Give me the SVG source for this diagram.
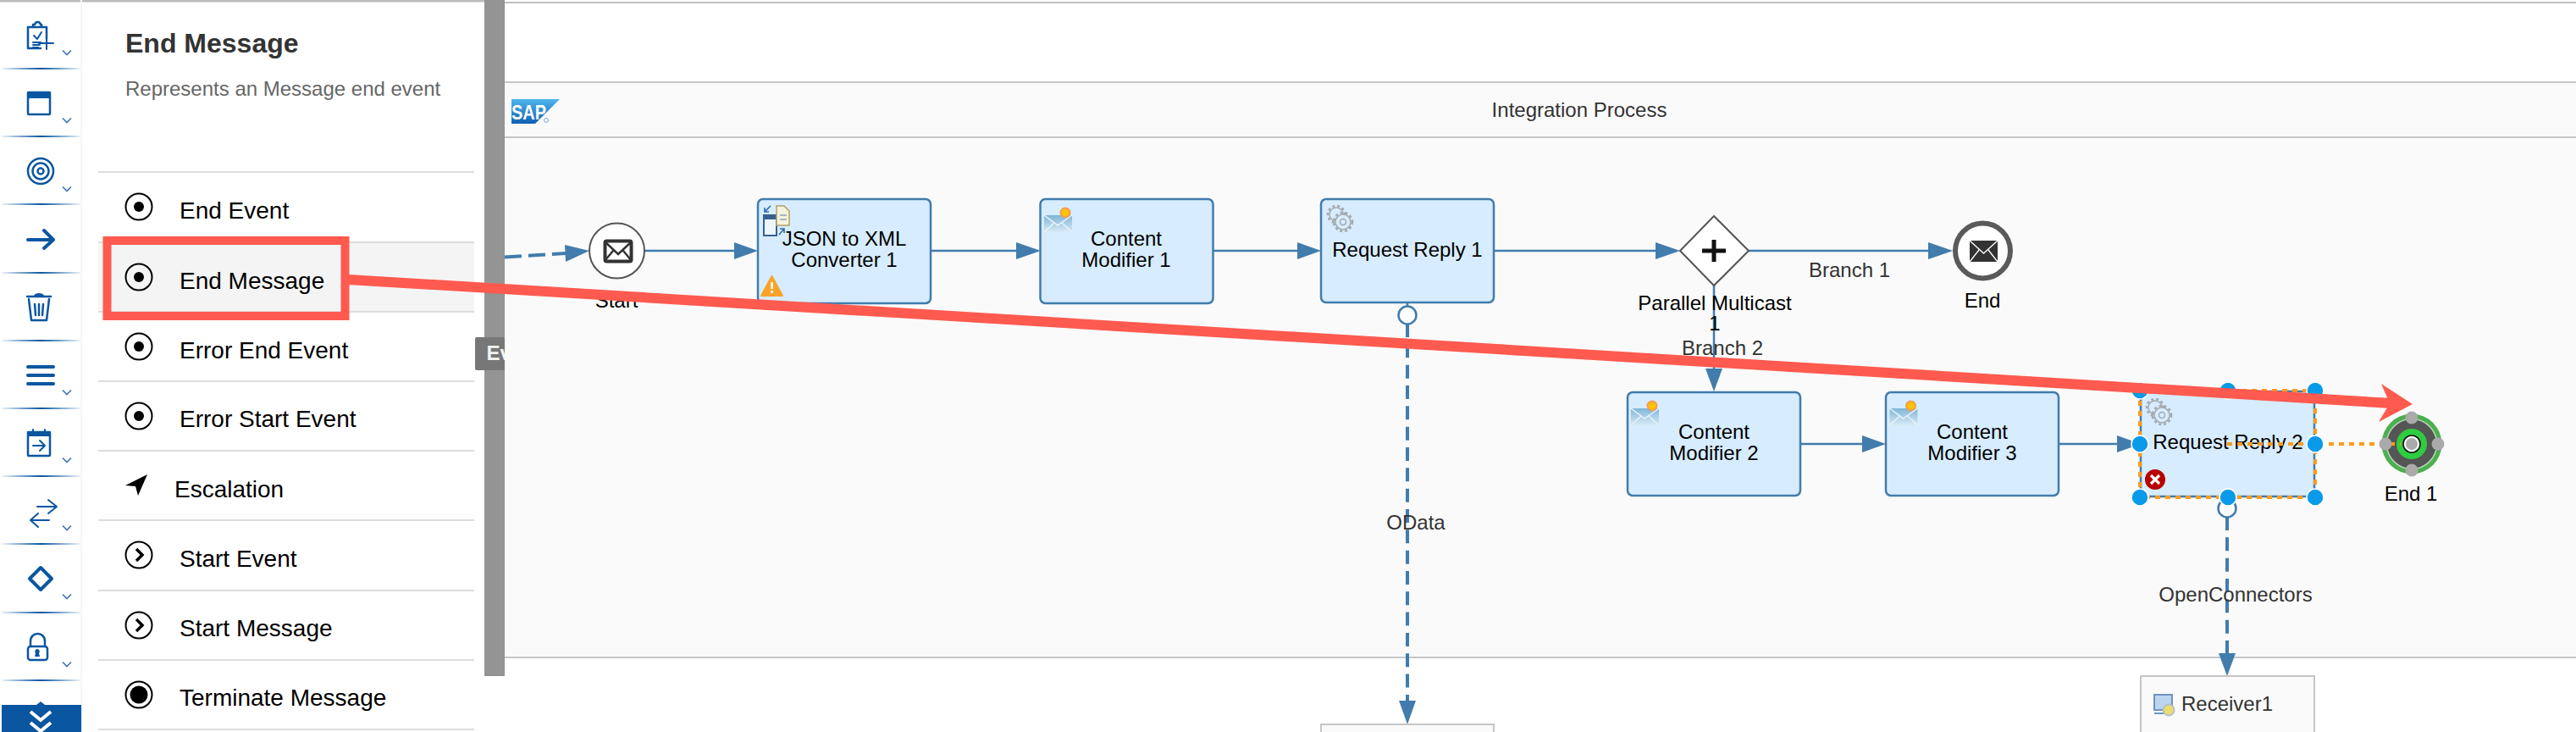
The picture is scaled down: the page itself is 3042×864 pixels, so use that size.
<svg xmlns="http://www.w3.org/2000/svg" width="3042" height="864" viewBox="0 0 3042 864">
<style>
text{font-family:"Liberation Sans",Arial,sans-serif}
.n{font-size:24px;fill:#000;text-anchor:middle}
.l{font-size:24px;fill:#333;text-anchor:middle}
.m{font-size:28px;fill:#000}
.box{fill:#d7ecff;stroke:#417cad;stroke-width:2.5}
.flow{fill:none;stroke:#417cad;stroke-width:2.5}
.dash{fill:none;stroke:#417cad;stroke-width:4;stroke-dasharray:16 8.33}
.head{fill:#417cad}
.port{fill:#fff;stroke:#417cad;stroke-width:2.5}
.sel{fill:none;stroke:#ff9a1a;stroke-width:4;stroke-dasharray:6 6}
.h{fill:#0a9aea;stroke:#fff;stroke-width:1.5}
.g{fill:#aaa}
.sep{stroke:#ddd;stroke-width:2}
.ti{fill:none;stroke:#0a56a0;stroke-width:2.5;stroke-linecap:round;stroke-linejoin:round}
.w2{stroke-width:2}
.w4{stroke-width:4}
.tf{fill:#0a56a0}
.chev{fill:none;stroke:#3d74b6;stroke-width:1.6}
.mi{fill:none;stroke:#000;stroke-width:2}
.div{fill:url(#dv)}
</style>
<defs>
<linearGradient id="dv"><stop offset="0" stop-color="#0a56a0" stop-opacity=".08"/><stop offset=".5" stop-color="#0a56a0"/><stop offset="1" stop-color="#0a56a0" stop-opacity=".08"/></linearGradient>
<linearGradient id="sapg" x1="0" y1="0" x2="0" y2="1"><stop offset="0" stop-color="#4fb6ee"/><stop offset="1" stop-color="#0f5fb5"/></linearGradient>
<linearGradient id="envg" x1="0" y1="0" x2="0" y2="1"><stop offset="0" stop-color="#7fb6d8"/><stop offset="1" stop-color="#d8eaf5"/></linearGradient>
<g id="cmIcon">
<rect x="0" y="9" width="33" height="20" fill="url(#envg)"/>
<path d="M0 9L16 21L33 9M0 29L12 18M33 29L21 18" fill="none" stroke="#e9f3fa" stroke-width="1.5"/>
<circle cx="25" cy="6" r="5.5" fill="#ffc400" stroke="#f59a5a" stroke-width="2"/>
</g>
<g id="gearIcon" fill="none" stroke="#a3a9ad">
<circle cx="12" cy="11" r="8" stroke-width="1.5"/>
<circle cx="12" cy="11" r="10" stroke-width="2.5" stroke-dasharray="3 3"/>
<circle cx="20" cy="20" r="9" stroke-width="1.5" fill="#d7ecff"/>
<circle cx="20" cy="20" r="11" stroke-width="2.5" stroke-dasharray="3 3"/>
<circle cx="20" cy="20" r="3.5" stroke-width="1.5"/>
</g>
<g id="dotIcon"><circle cx="0" cy="0" r="15.5" class="mi"/><circle cx="0" cy="0" r="6" fill="#000"/></g>
<g id="chevIcon"><circle cx="0" cy="0" r="15.5" class="mi"/><path d="M-3 -7L4 0L-3 7" fill="none" stroke="#000" stroke-width="3.5"/></g>
<path id="ch" class="chev" d="M74 -2.5L79 2.5L84 -2.5"/>
<clipPath id="tipc"><rect x="561" y="398" width="35" height="40"/></clipPath>
</defs>

<rect width="3042" height="864" fill="#fff"/>

<g id="pool">
<rect x="596" y="2" width="2446" height="2" fill="#c0c0c0"/>
<rect x="596" y="97" width="2446" height="679" fill="#fafafa"/>
<path d="M596 97H3042M596 162H3042M596 776H3042" stroke="#c6c6c6" stroke-width="2" fill="none"/>
<text x="1865" y="138" class="l">Integration Process</text>
<g id="sap-logo">
<path d="M604 117H661L632 146H604Z" fill="url(#sapg)"/>
<text x="604" y="141" font-size="24" font-weight="700" fill="#fff" textLength="41" lengthAdjust="spacingAndGlyphs">SAP</text>
<circle cx="645" cy="142" r="2.5" fill="none" stroke="#7ea8dc"/>
</g>
</g>

<g id="connectors">
<path class="dash" d="M596 303.5L668 299" style="stroke-dasharray:20 8"/>
<path class="head" d="M696 296L667 289L668 309Z"/>
<path class="flow" d="M761 296H868"/><path class="head" d="M895 296L867 286V306Z"/>
<path class="flow" d="M1099 296H1202"/><path class="head" d="M1229 296L1200 286V306Z"/>
<path class="flow" d="M1433 296H1534"/><path class="head" d="M1560 296L1532 286V306Z"/>
<path class="flow" d="M1764 296H1957"/><path class="head" d="M1984 296L1955 286V306Z"/>
<path class="flow" d="M2065 296H2279"/><path class="head" d="M2306 296L2277 286V306Z"/>
<path class="flow" d="M2024 337V437"/><path class="head" d="M2024 462L2014 435H2034Z"/>
<path class="flow" d="M2126 524H2201"/><path class="head" d="M2227 524L2199 514V534Z"/>
<path class="flow" d="M2431 524H2502"/><path class="head" d="M2528 524L2500 514V534Z"/>
<path class="flow" d="M1662 357V363"/>
<path class="dash" d="M1662 382V830"/><path class="head" d="M1662 855L1652 827H1672Z"/>
<path class="dash" d="M2630 610V773"/><path class="head" d="M2630 798L2620 771H2640Z"/>
<text x="1672" y="625" class="l">OData</text>
<text x="2640" y="710" class="l">OpenConnectors</text>
<text x="2184" y="327" class="l">Branch 1</text>
<text x="2034" y="419" class="l">Branch 2</text>
</g>

<g id="node-start">
<circle cx="728.5" cy="296" r="32.5" fill="#fff" stroke="#555" stroke-width="2"/>
<rect x="714.5" y="284.5" width="31" height="24" rx="2" fill="#fff" stroke="#333" stroke-width="4"/>
<path d="M714 285L730 300L746 285M714 308L724 296M746 308L736 296" fill="none" stroke="#333" stroke-width="2.5"/>
<text x="728" y="363" class="n">Start</text>
</g>

<g id="node-json">
<rect x="895" y="235" width="204" height="123" rx="6" class="box"/>
<g id="json-icon">
<rect x="902" y="254" width="15" height="24" fill="#eef5fb" stroke="#35628f" stroke-width="2"/>
<rect x="902" y="254" width="15" height="5" fill="#35628f"/>
<path d="M917 243H926L932 249V266H917Z" fill="#f4f1dc" stroke="#b3a264" stroke-width="1.5"/>
<path d="M921 254H929M921 259H929" stroke="#8fa3b5" stroke-width="1.5"/>
<path d="M910 243L903 250M903 245V250H908M920 277L926 270M921 270H926V275" fill="none" stroke="#2f6aa8" stroke-width="1.6"/>
</g>
<text x="997" y="290" class="n">JSON to XML</text>
<text x="997" y="315" class="n">Converter 1</text>
<g id="json-warning">
<path d="M911.5 326L924 349H899Z" fill="#f9a229" stroke="#f9a229" stroke-width="2" stroke-linejoin="round"/>
<rect x="910.3" y="333" width="2.6" height="8" fill="#fff"/><rect x="910.3" y="343" width="2.6" height="3" fill="#fff"/>
</g>
</g>

<g id="node-cm1">
<rect x="1228.5" y="235" width="204" height="123" rx="6" class="box"/>
<use href="#cmIcon" x="1233" y="245"/>
<text x="1330" y="290" class="n">Content</text>
<text x="1330" y="315" class="n">Modifier 1</text>
</g>

<g id="node-rr1">
<rect x="1560" y="235" width="204" height="122" rx="6" class="box"/>
<use href="#gearIcon" x="1566" y="242"/>
<text x="1662" y="303" class="n">Request Reply 1</text>
<circle cx="1662" cy="372" r="10.5" class="port"/>
</g>

<g id="node-multicast">
<path d="M2024 255L2065 296L2024 337L1984 296Z" fill="#fff" stroke="#555" stroke-width="2"/>
<path d="M2024 283V309M2010 296H2038" stroke="#111" stroke-width="5" fill="none"/>
<text x="2025" y="366" class="n">Parallel Multicast</text>
<text x="2025" y="390" class="n">1</text>
</g>

<g id="node-end">
<circle cx="2341.5" cy="296" r="32.5" fill="#fff" stroke="#5a5a5a" stroke-width="6"/>
<rect x="2326" y="284" width="33" height="25" fill="#333"/>
<path d="M2326 284L2342.5 299L2359 284M2326 309L2337 295M2359 309L2348 295" fill="none" stroke="#fff" stroke-width="1.3"/>
<text x="2341" y="363" class="n">End</text>
</g>

<g id="node-cm2">
<rect x="1922" y="463" width="204" height="122" rx="6" class="box"/>
<use href="#cmIcon" x="1926" y="473"/>
<text x="2024" y="518" class="n">Content</text>
<text x="2024" y="543" class="n">Modifier 2</text>
</g>

<g id="node-cm3">
<rect x="2227" y="463" width="204" height="122" rx="6" class="box"/>
<use href="#cmIcon" x="2231.5" y="473"/>
<text x="2329" y="518" class="n">Content</text>
<text x="2329" y="543" class="n">Modifier 3</text>
</g>

<g id="node-rr2">
<rect x="2528" y="462" width="205" height="124" rx="2" class="box"/>
<use href="#gearIcon" x="2533" y="470"/>
<text x="2631" y="530" class="n">Request Reply 2</text>
<circle cx="2630" cy="600" r="10.5" class="port"/>
<circle cx="2545" cy="566" r="12" fill="#b80000"/>
<path d="M2540 561L2550 571M2550 561L2540 571" stroke="#fff" stroke-width="3.2"/>
</g>

<g id="node-odata-target">
<rect x="1560" y="855" width="204" height="20" fill="#fafafa" stroke="#c6c6c6" stroke-width="2"/>
</g>

<g id="node-receiver">
<rect x="2528" y="798" width="205" height="70" fill="#fafafa" stroke="#c6c6c6" stroke-width="2"/>
<rect x="2544" y="820" width="21" height="18" fill="#bcd5ee" stroke="#6f93bd" stroke-width="2"/>
<path d="M2544 842H2556" stroke="#6f93bd" stroke-width="2"/>
<circle cx="2561" cy="838" r="6.5" fill="#eadf6a" stroke="#b9bfc8" stroke-width="2"/>
<text x="2576" y="839" class="l" style="text-anchor:start">Receiver1</text>
</g>

<g id="node-end1">
<circle cx="2848" cy="524" r="35.5" fill="#4caf50"/>
<circle cx="2848" cy="524" r="29.5" fill="#555" stroke="#b5d6b6" stroke-width="1.5"/>
<circle cx="2848" cy="524" r="14" fill="#fff" stroke="#2ecc40" stroke-width="8"/>
<circle cx="2848" cy="524" r="10" fill="#fff" stroke="#111" stroke-width="1.6"/>
<text x="2847" y="591" class="n">End 1</text>
</g>

<g id="selection">
<rect x="2527" y="461" width="207" height="126" class="sel"/>
<path d="M2630 524H2835" class="sel"/>
<circle cx="2527" cy="461" r="10" class="h"/><circle cx="2631" cy="461" r="10" class="h"/><circle cx="2734" cy="461" r="10" class="h"/>
<circle cx="2527" cy="524" r="10" class="h"/><circle cx="2734" cy="524" r="10" class="h"/>
<circle cx="2527" cy="587" r="10" class="h"/><circle cx="2631" cy="587" r="10" class="h"/><circle cx="2734" cy="587" r="10" class="h"/>
<circle cx="2848" cy="524" r="7" class="g"/>
<circle cx="2848" cy="493" r="7.5" class="g"/><circle cx="2848" cy="555" r="7.5" class="g"/><circle cx="2817" cy="524" r="7.5" class="g"/><circle cx="2879" cy="524" r="7.5" class="g"/>
</g>

<g id="panel">
<rect x="96" y="0" width="476" height="864" fill="#fff"/>
<rect x="572" y="0" width="24" height="798" fill="#949494"/>
<rect x="0" y="0" width="572" height="2.5" fill="#bdbdbd"/>
<text x="148" y="62" font-size="32" font-weight="700" fill="#333">End Message</text>
<text x="148" y="113" font-size="24" fill="#666">Represents an Message end event</text>
<rect x="116" y="287" width="444" height="81" fill="#f4f4f4"/>
<path class="sep" d="M116 203H560M116 286H560M116 368H560M116 450H560M116 532H560M116 614H560M116 697H560M116 779H560M116 861H560"/>
<g id="item-end-event"><use href="#dotIcon" x="164" y="244"/><text x="212" y="258" class="m">End Event</text></g>
<g id="item-end-message"><use href="#dotIcon" x="164" y="327"/><text x="212" y="341" class="m">End Message</text></g>
<g id="item-error-end"><use href="#dotIcon" x="164" y="409"/><text x="212" y="423" class="m">Error End Event</text></g>
<g id="item-error-start"><use href="#dotIcon" x="164" y="491"/><text x="212" y="504" class="m">Error Start Event</text></g>
<g id="item-escalation"><path d="M148 573L174 560L163 585L160 574Z" fill="#000"/><text x="206" y="587" class="m">Escalation</text></g>
<g id="item-start-event"><use href="#chevIcon" x="164" y="655"/><text x="212" y="669" class="m">Start Event</text></g>
<g id="item-start-message"><use href="#chevIcon" x="164" y="738"/><text x="212" y="751" class="m">Start Message</text></g>
<g id="item-terminate"><circle cx="164" cy="820" r="15.5" class="mi"/><circle cx="164" cy="820" r="10.5" fill="#000"/><text x="212" y="833" class="m">Terminate Message</text></g>
<g id="tooltip"><rect x="561" y="398" width="35" height="39" rx="2" fill="#777"/><text x="574.5" y="425" font-size="24" font-weight="700" fill="#f2f2f2" clip-path="url(#tipc)">Ev</text></g>
</g>

<g id="toolbar">
<rect x="95" y="0" width="2" height="864" fill="#f5f6fa"/>
<rect x="2" y="80" width="93" height="2" class="div"/><rect x="2" y="160" width="93" height="2" class="div"/><rect x="2" y="240" width="93" height="2" class="div"/><rect x="2" y="321" width="93" height="2" class="div"/><rect x="2" y="401" width="93" height="2" class="div"/><rect x="2" y="481" width="93" height="2" class="div"/><rect x="2" y="561" width="93" height="2" class="div"/><rect x="2" y="641" width="93" height="2" class="div"/><rect x="2" y="722" width="93" height="2" class="div"/><rect x="2" y="802" width="93" height="2" class="div"/>
<use href="#ch" y="62"/><use href="#ch" y="142"/><use href="#ch" y="223"/><use href="#ch" y="463"/><use href="#ch" y="543"/><use href="#ch" y="623"/><use href="#ch" y="704"/><use href="#ch" y="784"/>
<g id="tool-clipboard"><path class="ti" d="M39 32H33V57H48M49 32H55V46"/><path class="ti" d="M39 32V29H41C42 25 47 25 48 29H49V32Z"/><path class="ti w2" d="M40 42L44 46L49 38M39 50H48M39 53H47M39 56H45M46 51H63M55 44V58"/></g>
<g id="tool-window"><rect x="33" y="109" width="26" height="26" rx="1" class="ti"/><rect x="32" y="108" width="28" height="8" class="tf"/></g>
<g id="tool-target"><circle cx="48" cy="202" r="15" class="ti"/><circle cx="48" cy="202" r="9.5" class="ti"/><circle cx="48" cy="202" r="3.5" class="ti"/></g>
<g id="tool-arrow"><path class="ti w4" d="M33 283H62M52 272L63 283L52 293"/></g>
<g id="tool-trash"><path class="ti" d="M32 350H60"/><path class="tf" d="M40 349C41 345 51 345 52 349Z"/><path class="ti" d="M34 353L37 378H55L58 353M41 359L42 372M46 359V372M51 359L50 372"/></g>
<g id="tool-menu"><path class="ti w4" d="M33 433H63M33 443H63M33 453H63"/></g>
<g id="tool-calendar"><rect x="33" y="510" width="26" height="28" rx="1" class="ti"/><rect x="32" y="509" width="28" height="6" class="tf"/><path class="ti w2" d="M39 507V511M53 507V511"/><path class="ti w2" d="M39 526H53M47 520L53 526L47 532"/></g>
<g id="tool-swap"><path class="ti w2" d="M44 598H66M57 590L67 598L57 606M58 614H36M45 606L36 614L45 622"/></g>
<g id="tool-gateway"><path class="ti w4" d="M48 670L61 683L48 696L35 683Z"/></g>
<g id="tool-lock"><rect x="33" y="763" width="23" height="16" rx="3" class="ti"/><path class="ti" d="M36 763V757C36 745 53 745 53 757V763"/><path d="M44 766A3 3 0 0 1 46 771L47 775H41L42 771A3 3 0 0 1 44 766Z" class="tf"/></g>
<g id="tool-more"><path d="M43 832L48 828L53 832Z" class="tf"/><rect x="2" y="832" width="94" height="32" class="tf"/><path d="M36 840L48 850L60 840M36 853L48 863L60 853" fill="none" stroke="#fff" stroke-width="4"/></g>
</g>

<g id="callout">
<rect x="126.5" y="284" width="281" height="89" fill="none" stroke="#ff5a4f" stroke-width="10"/>
<path d="M407 329.7L2824 476" fill="none" stroke="#ff5a4f" stroke-width="12"/>
<path d="M2849 477L2812 453L2822 476L2809 498Z" fill="#ff5a4f"/>
</g>
</svg>
